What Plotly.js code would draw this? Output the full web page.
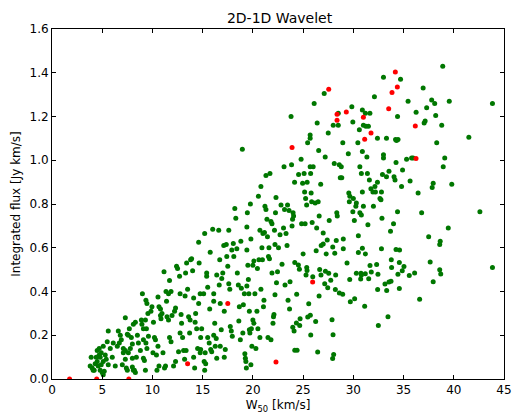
<!DOCTYPE html>
<html>
<head>
<meta charset="utf-8">
<script src="https://cdn.plot.ly/plotly-3.0.1.min.js"></script>
<style>html,body{margin:0;padding:0;background:#fff;}#chart{width:513px;height:418px;}</style>
</head>
<body>
<div id="chart"></div>
<script>
// Green sample points (W50 [km/s], integrated flux [Jy km/s]) as [x, y] pairs
const greenPairs = [
[3.9,0.10],[4.0,0.05],[3.8,0.06],[4.1,0.04],[4.2,0.04],[4.5,0.08],[4.5,0.13],[4.7,0.11],[4.8,0.10],[4.9,0.12],[4.4,0.10],[4.3,0.07],[4.6,0.06],[4.8,0.04],[5.0,0.03],[5.1,0.02],[5.2,0.035],[4.9,0.065],[5.1,0.08],[5.3,0.11],[5.4,0.09],[5.5,0.17],[5.6,0.22],[5.1,0.15],[6.0,0.10],[5.8,0.14],[5.6,0.065],[6.1,0.165],[6.3,0.06],[4.7,0.14],
[6.5,0.15],[6.6,0.22],[6.8,0.20],[6.7,0.165],[6.9,0.18],[7.1,0.12],[7.1,0.14],[7.3,0.13],[7.3,0.09],[7.4,0.05],[7.5,0.04],[7.3,0.28],[7.6,0.20],[7.7,0.23],[7.9,0.19],[7.8,0.14],[8.0,0.16],[8.0,0.055],[8.1,0.04],[8.2,0.04],[8.3,0.03],[8.1,0.25],[8.3,0.26],[8.5,0.20],[8.4,0.10],[8.6,0.165],[8.8,0.13],[8.9,0.27],[9.0,0.39],[8.95,0.25],[9.1,0.18],[9.1,0.095],[9.2,0.085],[8.0,0.095],[7.6,0.12],[7.0,0.065],[7.5,0.205],
[9.35,0.36],[9.45,0.345],[9.4,0.23],[9.55,0.30],[9.3,0.27],[9.1,0.23],[9.6,0.195],[9.35,0.165],[9.45,0.14],[9.3,0.04],[9.85,0.31],[9.95,0.33],[10.1,0.26],[10.2,0.19],[10.3,0.18],[10.4,0.11],[10.45,0.04],[10.55,0.375],[10.65,0.33],[10.8,0.32],[10.8,0.29],[10.95,0.30],[11.05,0.12],[11.2,0.05],[11.3,0.06],[11.15,0.49],[11.35,0.40],[11.4,0.355],[11.6,0.39],[11.6,0.27],[11.7,0.19],[11.85,0.17],[11.7,0.45],[11.85,0.40],[11.95,0.29],[11.45,0.285],[10.05,0.12],[10.65,0.06],[10.55,0.15],[10.85,0.275],
[12.1,0.06],[12.2,0.31],[12.3,0.325],[12.4,0.515],[12.5,0.505],[12.3,0.08],[12.6,0.125],[12.7,0.47],[12.75,0.39],[12.85,0.295],[12.9,0.255],[13.0,0.19],[13.1,0.13],[13.2,0.09],[13.3,0.485],[13.4,0.53],[13.35,0.13],[13.5,0.41],[13.6,0.285],[13.7,0.21],[13.75,0.27],[13.8,0.545],[13.9,0.55],[14.0,0.495],[14.1,0.37],[14.1,0.10],[14.2,0.05],[14.25,0.26],[14.3,0.30],[14.4,0.23],[14.5,0.14],[14.6,0.625],[14.65,0.53],[14.6,0.345],[14.75,0.39],[14.75,0.12],[14.8,0.19],[14.9,0.23],[14.8,0.135],[15.2,0.665],[15.1,0.39],[15.15,0.08],[15.2,0.04],[15.3,0.07],[12.75,0.21],[13.25,0.38],
[15.4,0.47],[15.4,0.485],[15.5,0.42],[15.7,0.32],[15.75,0.58],[15.5,0.19],[15.65,0.165],[15.8,0.135],[15.9,0.125],[16.0,0.685],[16.1,0.39],[16.1,0.355],[16.2,0.255],[16.25,0.15],[16.35,0.185],[16.4,0.475],[16.6,0.68],[16.7,0.545],[16.65,0.43],[16.75,0.345],[16.75,0.15],[16.85,0.225],[16.9,0.46],[17.0,0.485],[17.1,0.61],[17.15,0.31],[17.25,0.135],[17.35,0.615],[17.4,0.56],[17.5,0.515],[17.6,0.68],[17.6,0.435],[17.7,0.41],[17.75,0.24],[17.85,0.22],[17.95,0.195],[17.9,0.59],[17.15,0.10],[16.4,0.095],[15.25,0.12],[16.1,0.20],
[18.05,0.62],[18.1,0.56],[18.2,0.78],[18.3,0.735],[18.4,0.595],[18.45,0.485],[18.55,0.43],[18.6,0.265],[18.65,0.33],[18.75,0.18],[18.8,0.63],[18.85,0.415],[18.95,1.05],[19.0,0.21],[19.05,0.34],[19.15,0.39],[19.2,0.115],[19.25,0.095],[19.3,0.08],[19.35,0.05],[19.4,0.59],[19.4,0.695],[19.45,0.76],[19.5,0.52],[19.55,0.455],[19.6,0.39],[19.65,0.31],[19.65,0.225],[19.7,0.21],[19.8,0.64],[19.8,0.065],[19.85,0.23],[19.9,0.15],[19.75,0.80],[20.0,0.52],[20.0,0.27],[20.1,0.255],[20.2,0.39],[20.3,0.14],[20.4,0.31],[20.45,0.505],[20.5,0.23],[20.55,0.835],[20.6,0.545],[20.7,0.68],[20.7,0.19],[20.8,0.88],[20.8,0.41],[20.9,0.60],[20.95,0.545],[21.0,0.665],[20.1,0.54],[19.4,0.425],
[21.05,0.33],[21.1,0.36],[21.15,0.67],[21.2,0.79],[21.3,0.775],[21.3,0.93],[21.4,0.73],[21.45,0.65],[21.5,0.19],[21.55,0.56],[21.6,0.60],[21.65,0.55],[21.7,0.94],[21.8,0.18],[21.8,0.72],[21.9,0.71],[21.9,0.485],[22.0,0.255],[22.05,0.285],[22.1,0.295],[22.15,0.68],[22.2,0.385],[22.2,0.615],[22.25,0.76],[22.3,0.83],[22.35,0.44],[22.45,0.49],[22.55,0.60],[22.7,0.66],[22.8,0.795],[22.9,0.525],[23.05,0.69],[23.1,0.97],[23.15,0.775],[23.2,0.43],[23.3,0.665],[23.4,0.61],[23.5,0.36],[23.6,0.77],[23.65,0.32],[23.7,0.445],[23.8,1.20],[23.85,0.98],[23.9,0.70],[23.95,0.73],[24.0,0.76],[24.05,0.745],[24.15,0.90],[23.45,0.795],
[24.55,0.935],[24.8,1.005],[24.85,0.71],[24.95,0.895],[25.1,0.94],[25.15,0.855],[25.2,0.71],[25.25,0.825],[25.35,0.795],[25.4,0.90],[25.45,1.08],[25.7,1.115],[25.7,1.10],[25.7,0.97],[25.75,0.94],[25.8,0.85],[25.85,0.81],[25.9,0.715],[26.0,0.97],[26.1,1.26],[26.2,0.805],[26.35,0.69],[26.4,1.17],[26.5,0.81],[26.55,1.045],[26.6,0.745],[26.75,0.89],[27.1,1.305],[27.2,1.015],[27.5,1.125],[27.6,0.725],[28.0,1.16],[28.1,0.985],[28.35,0.76],[28.4,0.745],[28.5,1.215],[28.5,1.16],[28.6,0.98],[28.7,0.92],[28.8,0.97],[28.85,0.92],[28.95,1.08],[29.5,1.03],[29.55,0.85],[29.6,0.81],[29.65,0.835],[29.85,1.245],[29.95,1.175],[29.95,0.765],[30.0,0.825],[30.1,0.725],[30.25,0.79],[30.3,0.805],[30.45,1.08],[30.6,1.14],[30.65,0.97],[30.65,0.76],[30.8,0.94],[30.8,0.75],[30.9,0.855],[30.9,1.23],[30.9,1.04],[31.0,1.16],[31.0,0.79],[31.2,1.215],[31.25,1.155],[31.35,1.015],[31.4,0.94],[31.45,0.705],[31.5,1.155],[31.6,0.91],[31.65,1.215],[31.75,0.87],[31.95,0.855],[32.0,0.79],[32.1,1.29],[32.15,0.88],[32.2,0.855],[32.4,1.10],[32.4,0.90],[32.65,0.825],[32.75,0.82],[32.8,0.855],[32.85,0.735],[32.9,0.935],[33.0,1.025],[33.0,1.01],[33.0,1.38],[33.3,1.10],[33.3,0.925],[33.55,0.95],[34.0,0.71],[34.05,0.925],[34.15,0.91],[34.2,1.095],[34.25,0.99],[34.3,1.09],[34.4,0.765],[34.4,1.20],[34.45,1.095],[34.7,1.37],[34.8,0.88],[34.9,0.955],[35.3,1.005],[35.45,1.27],[35.65,0.905],[35.8,1.01],[35.95,1.01],
[26.8,0.61],[27.0,0.617],[27.3,0.572],[27.95,0.603],[28.15,0.575],[29.0,0.595],[30.5,0.578],[30.9,0.598],[31.2,0.572],[32.8,0.595],[34.25,0.592],[34.6,0.59],[25.0,0.572],[26.3,0.586],[27.0,0.667],[27.4,0.636],[28.3,0.633],[29.0,0.64],[30.5,0.655],[33.7,0.675],
[24.17,0.533],[24.53,0.521],[24.63,0.502],[25.36,0.510],[25.39,0.496],[25.29,0.476],[25.96,0.467],[26.65,0.501],[26.78,0.475],[27.22,0.493],[27.55,0.484],[28.24,0.475],[27.15,0.435],[27.45,0.417],[27.75,0.451],[28.21,0.409],[28.61,0.393],[28.94,0.387],[29.37,0.530],[29.64,0.455],[29.7,0.353],[30.13,0.367],[30.3,0.484],[30.76,0.484],[30.8,0.475],[30.73,0.457],[31.19,0.481],[31.53,0.458],[31.66,0.519],[31.79,0.489],[32.32,0.524],[32.45,0.479],[32.42,0.409],[33.15,0.434],[33.32,0.405],[33.55,0.443],[33.75,0.447],[33.78,0.545],[33.81,0.51],[34.44,0.479],[34.58,0.533],[34.58,0.414],[34.87,0.495],[35.04,0.514],[35.57,0.473],[31.13,0.333],[33.45,0.285],[32.49,0.245],[25.56,0.344],[25.46,0.283],[25.72,0.292],[26.25,0.263],[26.59,0.379],[24.36,0.388],[24.7,0.275],[24.66,0.245],[24.33,0.256],[23.97,0.237],[24.1,0.219],[25.76,0.201],[27.88,0.271],[27.98,0.202],[24.17,0.131],[24.4,0.131],[26.45,0.123],[28.04,0.112],[27.94,0.094],
[36.1,0.485],[36.25,1.22],[36.45,0.85],[36.6,0.365],[36.8,0.76],[36.95,1.33],[37.05,1.17],[37.15,1.18],[37.3,1.24],[37.5,0.65],[37.65,0.535],[37.8,1.275],[37.85,0.875],[37.95,0.895],[37.95,0.445],[38.1,1.26],[38.2,1.205],[38.3,1.08],[38.6,0.615],[38.65,0.63],[38.6,0.50],[38.7,0.48],[38.8,1.16],[38.9,1.43],[38.95,0.97],[39.1,1.01],[39.45,0.69],[39.55,1.27],[39.8,0.89],[41.5,1.105],[42.6,0.765],[43.85,1.26],[43.85,0.51]
];
// Red sample points
const redPairs = [
[1.75,0.0],[4.45,0.0],[7.65,0.0],[13.5,0.07],[17.5,0.345],[22.3,0.078],[23.9,1.058],[25.95,0.443],[27.55,1.325],[28.38,1.21],[28.38,1.183],[29.3,1.221],[31.0,1.197],[31.13,1.096],[31.76,1.124],[33.52,1.236],[33.85,1.31],[34.18,1.404],[34.38,1.335],[36.17,1.157],[36.24,1.008]
];
const xTicks = [0,5,10,15,20,25,30,35,40,45];
const yTicks = [0.0,0.2,0.4,0.6,0.8,1.0,1.2,1.4,1.6];

const greenX = greenPairs.map(p => p[0]), greenY = greenPairs.map(p => p[1]);
const redX = redPairs.map(p => p[0]), redY = redPairs.map(p => p[1]);

const font = {family: 'DejaVu Sans, sans-serif', color: '#000'};
const axisCommon = {
  showline: true, linecolor: '#000', linewidth: 1, mirror: 'ticks',
  ticks: 'inside', ticklen: 4, tickcolor: '#000', tickwidth: 1,
  showgrid: false, zeroline: false,
  tickfont: {family: font.family, size: 12, color: '#000'}
};
const traces = [
  {x: greenX, y: greenY, type: 'scatter', mode: 'markers',
   marker: {color: '#007700', size: 5, line: {width: 0}}, cliponaxis: true, hoverinfo: 'none'},
  {x: redX, y: redY, type: 'scatter', mode: 'markers',
   marker: {color: '#ff0000', size: 5, line: {width: 0}}, cliponaxis: true, hoverinfo: 'none'}
];
const layout = {
  width: 513, height: 418,
  margin: {l: 52, r: 9, t: 29, b: 39, pad: 0},
  paper_bgcolor: '#fff', plot_bgcolor: '#fff',
  showlegend: false,
  title: {text: '2D-1D Wavelet', font: {family: font.family, size: 14, color: '#000'}, x: 0.545, xanchor: 'center', y: 0.957, yanchor: 'middle'},
  xaxis: Object.assign({}, axisCommon, {
    range: [0, 45], tickvals: xTicks, ticktext: xTicks.map(String),
    title: {text: 'W<sub>50</sub> [km/s]', font: {family: font.family, size: 12, color: '#000'}, standoff: 4}
  }),
  yaxis: Object.assign({}, axisCommon, {
    range: [0, 1.6], tickvals: yTicks, ticktext: yTicks.map(v => v.toFixed(1)),
    title: {text: 'Integrated flux [Jy km/s]', font: {family: font.family, size: 12, color: '#000'}, standoff: 6}
  })
};
Plotly.newPlot('chart', traces, layout, {staticPlot: true, displayModeBar: false});
</script>
</body>
</html>
